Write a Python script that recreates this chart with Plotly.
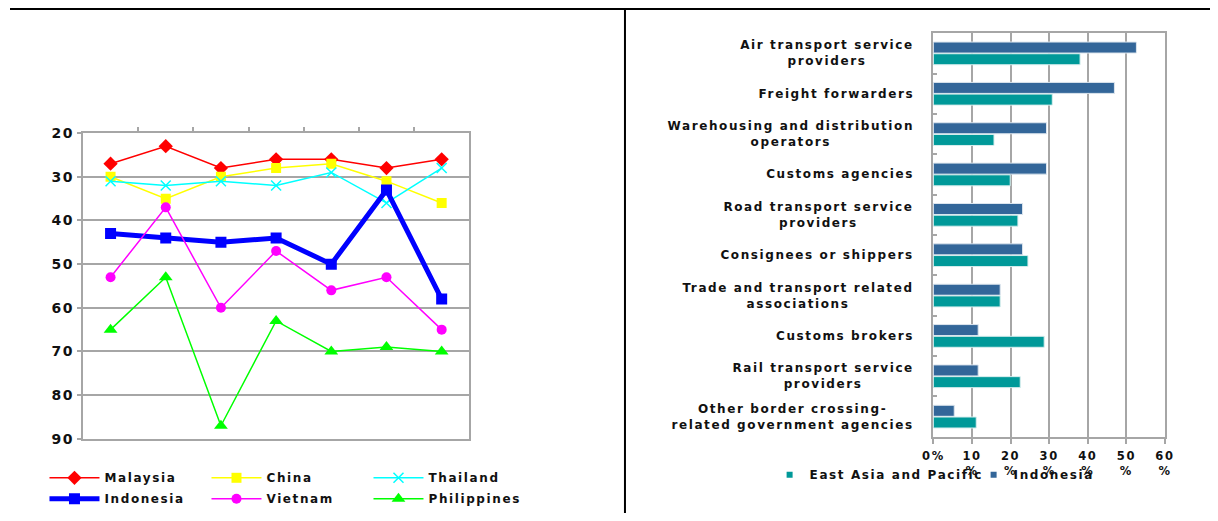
import plotly.graph_objects as go

# ---- Left panel: ranking by country over seven periods ----
periods = [1, 2, 3, 4, 5, 6, 7]
malaysia = [27, 23, 28, 26, 26, 28, 26]
china = [30, 35, 30, 28, 27, 31, 36]
thailand = [31, 32, 31, 32, 29, 36, 28]
indonesia = [43, 44, 45, 44, 50, 33, 58]
vietnam = [53, 37, 60, 47, 56, 53, 65]
philippines = [65, 53, 87, 63, 70, 69, 70]
rank_ticks = [20, 30, 40, 50, 60, 70, 80, 90]

# ---- Right panel: share of respondents by agency type ----
agencies = [
    "Air transport service<br>providers",
    "Freight forwarders",
    "Warehousing and distribution<br>operators",
    "Customs agencies",
    "Road transport service<br>providers",
    "Consignees or shippers",
    "Trade and transport related<br>associations",
    "Customs brokers",
    "Rail transport service<br>providers",
    "Other border crossing-<br>related government agencies",
]
indonesia_pct = [52.6, 46.9, 29.3, 29.3, 23.1, 23.1, 17.3, 11.6, 11.6, 5.4]
eap_pct = [38.0, 30.8, 15.7, 19.9, 21.9, 24.5, 17.3, 28.7, 22.5, 11.1]
pct_ticks = [0, 10, 20, 30, 40, 50, 60]
pct_labels = ["0%", "10<br>%", "20<br>%", "30<br>%", "40<br>%", "50<br>%", "60<br>%"]

W, H = 1218, 521
FONT = "DejaVu Sans"
GRID = "#a6a6a6"
IND_BLUE = "#336699"
EAP_TEAL = "#009999"
TRACK = 1.6  # letter spacing in px

# Layout helpers: screen pixel position -> paper fraction
SX, SY, OFF = 1234 / W, 537 / H, 8


def px(x):
    return (x * SX - OFF) / W


def py(y):
    return 1 - (y * SY - OFF) / H


fig = go.Figure()

series = [
    ("Malaysia", malaysia, "#ff0000", "diamond", 11, 1.5, "legend"),
    ("China", china, "#ffff00", "square", 10, 1.5, "legend"),
    ("Thailand", thailand, "#00ffff", "x-thin", 10, 1.5, "legend"),
    ("Indonesia", indonesia, "#0000ff", "square", 11, 5, "legend3"),
    ("Vietnam", vietnam, "#ff00ff", "circle", 10, 1.5, "legend3"),
    ("Philippines", philippines, "#00ff00", "triangle-up", 12, 1.5, "legend3"),
]
for name, vals, color, sym, size, lw, leg in series:
    fig.add_trace(go.Scatter(
        x=periods, y=vals, name=name, mode="lines+markers",
        line=dict(color=color, width=lw),
        marker=dict(symbol=sym, size=size, color=color,
                    line=dict(color=color, width=1.5 if sym == "x-thin" else 0)),
        xaxis="x", yaxis="y", legend=leg, hoverinfo="skip",
    ))

# Grouped horizontal bars
fig.add_trace(go.Bar(
    y=agencies, x=indonesia_pct, orientation="h", name="Indonesia",
    marker=dict(color=IND_BLUE, line=dict(color="#dde6ee", width=1)),
    xaxis="x2", yaxis="y2", showlegend=False, hoverinfo="skip",
))
fig.add_trace(go.Bar(
    y=agencies, x=eap_pct, orientation="h", name="East Asia and Pacific",
    marker=dict(color=EAP_TEAL, line=dict(color="#d8eeee", width=1)),
    xaxis="x2", yaxis="y2", showlegend=False, hoverinfo="skip",
))
# Small square swatches for the bar legend
for name, color in [("East Asia and Pacific", EAP_TEAL), ("Indonesia", IND_BLUE)]:
    fig.add_trace(go.Scatter(
        x=[None], y=[None], name=name, mode="markers",
        marker=dict(symbol="square", size=6, color=color),
        xaxis="x2", yaxis="y2", legend="legend2",
    ))

# Category labels of the bar chart, centred line by line; the shift keeps
# the tracked text flush with the label box's right edge
for cat in agencies:
    longest = max(len(part) for part in cat.split("<br>"))
    fig.add_annotation(
        x=px(914), xref="paper", xanchor="right",
        y=cat, yref="y2", yanchor="middle",
        xshift=-(longest * TRACK / 2 - TRACK),
        text=cat, showarrow=False, align="center",
        font=dict(family=FONT, size=12, color="#111111", weight="bold"),
    )

# Panel frame lines
fig.add_shape(type="line", xref="paper", yref="paper",
              x0=0, x1=1, y0=1 - 1 / H, y1=1 - 1 / H,
              line=dict(color="black", width=2))
fig.add_shape(type="line", xref="paper", yref="paper",
              x0=px(624), x1=px(624), y0=0, y1=1 - 1 / H,
              line=dict(color="black", width=2))

legend_common = dict(
    orientation="h", xanchor="left", yanchor="middle",
    bgcolor="rgba(0,0,0,0)", borderwidth=0,
    font=dict(family=FONT, size=12, color="#111111", weight="bold"),
    entrywidth=97, entrywidthmode="pixels", itemwidth=50,
    tracegroupgap=0,
)

fig.update_layout(
    width=W, height=H,
    margin=dict(l=0, r=0, t=0, b=0),
    paper_bgcolor="white", plot_bgcolor="white",
    font=dict(family=FONT, size=12, color="#111111"),
    barmode="group", bargap=0.42, bargroupgap=0.06,
    xaxis=dict(
        domain=[px(81), px(468)], range=[0.5, 7.5],
        side="top", tickvals=[1.5, 2.5, 3.5, 4.5, 5.5, 6.5],
        showticklabels=False, ticks="outside", ticklen=4, tickcolor=GRID,
        tickwidth=2, showgrid=False, zeroline=False,
        showline=True, linecolor=GRID, linewidth=2, mirror=True,
    ),
    yaxis=dict(
        domain=[py(439), py(133)], range=[90, 20],
        tickvals=rank_ticks, ticks="outside", ticklen=4, tickcolor=GRID,
        tickwidth=2, showgrid=True, gridcolor=GRID, gridwidth=2,
        zeroline=False, showline=True, linecolor=GRID, linewidth=2,
        mirror=True,
        tickfont=dict(family=FONT, size=14, color="#111111", weight="bold"),
    ),
    xaxis2=dict(
        domain=[px(933), px(1165)], range=[0, 60],
        tickvals=pct_ticks, ticktext=pct_labels,
        ticks="outside", ticklen=5, tickcolor=GRID, tickwidth=2,
        ticklabelstandoff=2,
        showgrid=True, gridcolor=GRID, gridwidth=2, zeroline=False,
        showline=True, linecolor=GRID, linewidth=2, mirror=True,
        anchor="y2",
        tickfont=dict(family=FONT, size=11.5, color="#111111", weight="bold"),
    ),
    yaxis2=dict(
        domain=[py(437), py(33)], autorange="reversed",
        type="category", categoryorder="array", categoryarray=agencies,
        showticklabels=False, ticks="inside", ticklen=4, tickcolor=GRID,
        tickwidth=2, tickson="boundaries", showgrid=False, zeroline=False,
        showline=True, linecolor=GRID, linewidth=2, mirror=True,
        anchor="x2",
    ),
    legend=dict(x=35 / W, y=py(478), **legend_common),
    legend3=dict(x=35 / W, y=py(499), **legend_common),
    legend2=dict(
        x=771 / W, y=py(475), orientation="h", xanchor="left",
        yanchor="middle", bgcolor="rgba(0,0,0,0)", borderwidth=0,
        font=dict(family=FONT, size=12, color="#111111", weight="bold"),
        itemwidth=30, entrywidth=159, entrywidthmode="pixels",
    ),
    hovermode=False,
)

# Wide tracking on all chart text, with legend clip boxes released so the
# wider text is not cut.
page_js = (
    "document.body.style.margin='0';"
    "document.querySelectorAll('.main-svg text').forEach(function(t){"
    "t.style.letterSpacing='" + str(TRACK) + "px';});"
    "document.querySelectorAll('.main-svg .legend .scrollbox').forEach(function(g){"
    "g.removeAttribute('clip-path');});"
)
fig.write_html("out.html", post_script=page_js)
